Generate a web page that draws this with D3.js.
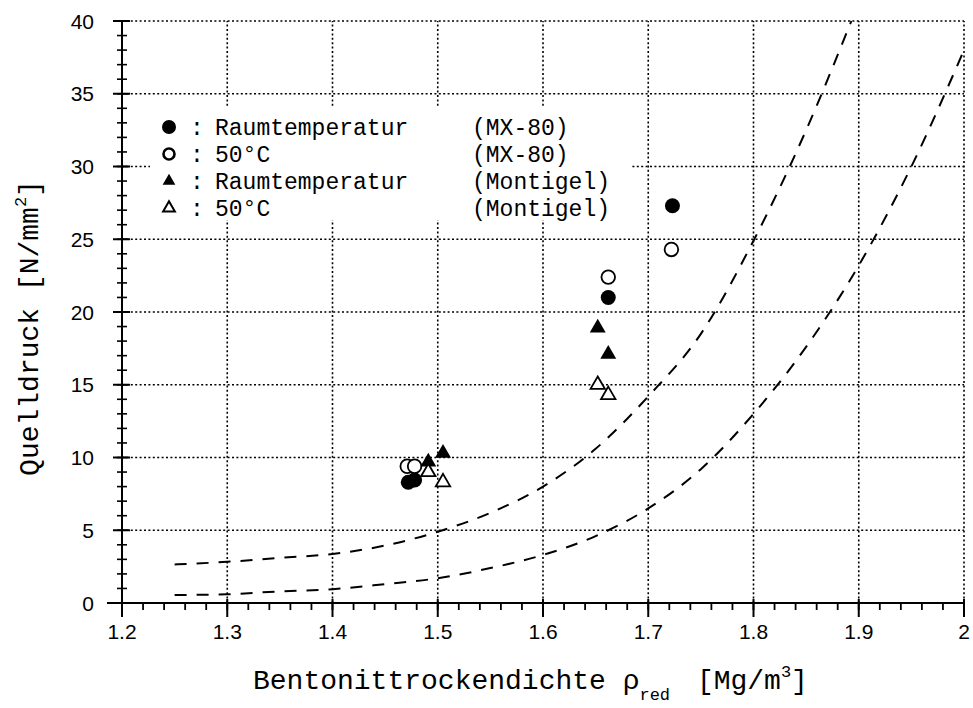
<!DOCTYPE html>
<html><head><meta charset="utf-8">
<script src="https://cdn.jsdelivr.net/npm/d3@7"></script>
<style>body{margin:0;background:#fff}</style>
</head><body><svg id="c" width="973" height="708"></svg>
<script>
// ---- data ----
const xTickValues = [1.2, 1.3, 1.4, 1.5, 1.6, 1.7, 1.8, 1.9, 2.0];
const xTickLabels = ["1.2", "1.3", "1.4", "1.5", "1.6", "1.7", "1.8", "1.9", "2"];
const yTickValues = [0, 5, 10, 15, 20, 25, 30, 35, 40];
const yTickLabels = ["0", "5", "10", "15", "20", "25", "30", "35", "40"];

const mx80RoomX = [1.472, 1.478, 1.662, 1.723];
const mx80RoomY = [8.3, 8.45, 21.0, 27.3];
const mx80HotX = [1.471, 1.478, 1.662, 1.722];
const mx80HotY = [9.4, 9.4, 22.4, 24.3];
const montRoomX = [1.491, 1.505, 1.652, 1.662];
const montRoomY = [9.7, 10.3, 18.9, 17.1];
const montHotX = [1.491, 1.505, 1.652, 1.662];
const montHotY = [9.0, 8.3, 15.0, 14.3];

const upperCurveX = [1.25, 1.3, 1.35, 1.4, 1.45, 1.5, 1.55, 1.6, 1.65, 1.7, 1.75, 1.8, 1.85, 1.893];
const upperCurveY = [2.65, 2.83, 3.1, 3.37, 3.95, 4.9, 6.2, 8.0, 10.6, 14.2, 18.5, 24.9, 32.5, 40];
const lowerCurveX = [1.25, 1.3, 1.35, 1.4, 1.45, 1.5, 1.55, 1.6, 1.65, 1.7, 1.75, 1.8, 1.85, 1.9, 1.95, 2.0];
const lowerCurveY = [0.55, 0.6, 0.8, 0.95, 1.3, 1.7, 2.4, 3.3, 4.6, 6.5, 9.2, 13.0, 17.6, 23.2, 30.0, 38.0];

const legendSymbols = ["filledCircle", "openCircle", "filledTriangle", "openTriangle"];
const legendLabels = ["Raumtemperatur", "50°C", "Raumtemperatur", "50°C"];
const legendMaterials = ["(MX-80)", "(MX-80)", "(Montigel)", "(Montigel)"];

// ---- drawing ----
const svg = d3.select("#c");
const x = d3.scaleLinear().domain([1.2, 2.0]).range([122, 964]);
const y = d3.scaleLinear().domain([0, 40]).range([603, 21]);
const mono = "'Liberation Mono', 'Courier New', monospace";
const sans = "'Liberation Sans', Arial, sans-serif";

// grid
const grid = svg.append("g").attr("stroke", "#000").attr("stroke-width", 1.6).attr("stroke-dasharray", "2,2.4");
grid.selectAll("line.v").data(xTickValues.slice(1)).join("line")
  .attr("x1", d => x(d)).attr("x2", d => x(d)).attr("y1", y(0)).attr("y2", y(40));
grid.selectAll("line.h").data(yTickValues.slice(1)).join("line")
  .attr("x1", x(1.2)).attr("x2", x(2.0)).attr("y1", d => y(d)).attr("y2", d => y(d));

// legend box
svg.append("rect").attr("x", 150).attr("y", 108).attr("width", 482).attr("height", 112).attr("fill", "#fff");
const lg = svg.append("g");
const rowY = i => 127 + i * 27;
const symGen = (type, size) => d3.symbol().type(type).size(size)();
legendSymbols.forEach((s, i) => {
  const g = lg.append("g").attr("transform", `translate(169,${rowY(i)})`);
  if (s === "filledCircle") g.append("circle").attr("r", 7).attr("fill", "#000");
  if (s === "openCircle") g.append("circle").attr("r", 5.5).attr("fill", "none").attr("stroke", "#000").attr("stroke-width", 2.6);
  if (s === "filledTriangle") g.append("path").attr("d", symGen(d3.symbolTriangle, 70)).attr("fill", "#000");
  if (s === "openTriangle") g.append("path").attr("d", symGen(d3.symbolTriangle, 60)).attr("fill", "none").attr("stroke", "#000").attr("stroke-width", 2);
  lg.append("text").attr("x", 197).attr("y", rowY(i)).attr("dy", "0.35em").attr("text-anchor", "middle")
    .attr("font-family", mono).attr("font-size", 23).text(":");
  lg.append("text").attr("x", 215).attr("y", rowY(i)).attr("dy", "0.35em")
    .attr("font-family", mono).attr("font-size", 23).text(legendLabels[i]);
  lg.append("text").attr("x", 472).attr("y", rowY(i)).attr("dy", "0.35em")
    .attr("font-family", mono).attr("font-size", 23).text(legendMaterials[i]);
});

// curves
const line = d3.line().x(d => x(d[0])).y(d => y(d[1])).curve(d3.curveMonotoneX);
[[upperCurveX, upperCurveY], [lowerCurveX, lowerCurveY]].forEach(([xs, ys]) => {
  svg.append("path").attr("d", line(xs.map((v, i) => [v, ys[i]])))
    .attr("fill", "none").attr("stroke", "#000").attr("stroke-width", 2).attr("stroke-dasharray", "12,10");
});

// points
const pts = svg.append("g");
const pairs = (xs, ys) => xs.map((v, i) => [v, ys[i]]);
pts.selectAll("c1").data(pairs(mx80RoomX, mx80RoomY)).join("circle")
  .attr("cx", d => x(d[0])).attr("cy", d => y(d[1])).attr("r", 7.5).attr("fill", "#000");
pts.selectAll("c2").data(pairs(mx80HotX, mx80HotY)).join("circle")
  .attr("cx", d => x(d[0])).attr("cy", d => y(d[1])).attr("r", 6.8).attr("fill", "#fff").attr("stroke", "#000").attr("stroke-width", 1.8);
pts.selectAll("t1").data(pairs(montRoomX, montRoomY)).join("path")
  .attr("transform", d => `translate(${x(d[0])},${y(d[1])})`).attr("d", symGen(d3.symbolTriangle, 110)).attr("fill", "#000");
pts.selectAll("t2").data(pairs(montHotX, montHotY)).join("path")
  .attr("transform", d => `translate(${x(d[0])},${y(d[1])})`).attr("d", symGen(d3.symbolTriangle, 90))
  .attr("fill", "#fff").attr("stroke", "#000").attr("stroke-width", 1.8);

// axes
const ax = svg.append("g").attr("stroke", "#000");
ax.append("line").attr("x1", 107).attr("x2", x(2.0)).attr("y1", y(0)).attr("y2", y(0)).attr("stroke-width", 2);
ax.append("line").attr("x1", x(1.2)).attr("x2", x(1.2)).attr("y1", y(40)).attr("y2", y(0)).attr("stroke-width", 2);
const xMinor = d3.range(0, 41).map(i => 1.2 + i * 0.02);
ax.selectAll("xm").data(xMinor).join("line")
  .attr("x1", d => x(d)).attr("x2", d => x(d)).attr("y1", y(0)).attr("y2", y(0) + 7).attr("stroke-width", 1.8);
ax.selectAll("xM").data(xTickValues).join("line")
  .attr("x1", d => x(d)).attr("x2", d => x(d)).attr("y1", y(0) - 4).attr("y2", y(0) + 14).attr("stroke-width", 2);
const yMinor = d3.range(0, 41);
ax.selectAll("ym").data(yMinor).join("line")
  .attr("x1", x(1.2) - 5).attr("x2", x(1.2) + 5).attr("y1", d => y(d)).attr("y2", d => y(d)).attr("stroke-width", 1.6);
ax.selectAll("yM").data(yTickValues).join("line")
  .attr("x1", x(1.2) - 9).attr("x2", x(1.2) + 8).attr("y1", d => y(d)).attr("y2", d => y(d)).attr("stroke-width", 2);

// tick labels
svg.selectAll("text.xl").data(xTickValues).join("text")
  .attr("x", d => x(d)).attr("y", 639).attr("text-anchor", "middle")
  .attr("font-family", sans).attr("font-size", 21).text((d, i) => xTickLabels[i]);
svg.selectAll("text.yl").data(yTickValues).join("text")
  .attr("x", 94).attr("y", d => y(d)).attr("dy", "0.36em").attr("text-anchor", "end")
  .attr("font-family", sans).attr("font-size", 21).text((d, i) => yTickLabels[i]);

// axis titles
const xt = svg.append("text").attr("x", 253).attr("y", 689).attr("font-family", mono).attr("font-size", 28);
xt.append("tspan").text("Bentonittrockendichte ρ");
xt.append("tspan").attr("dy", 11).attr("font-size", 17).text("red");
xt.append("tspan").attr("dy", -11).attr("dx", 10).text(" [Mg/m");
xt.append("tspan").attr("dy", -12).attr("font-size", 17).text("3");
xt.append("tspan").attr("dy", 12).text("]");

const yt = svg.append("text").attr("transform", "translate(38,328) rotate(-90)")
  .attr("text-anchor", "middle").attr("font-family", mono).attr("font-size", 28);
yt.append("tspan").text("Quelldruck [N/mm");
yt.append("tspan").attr("dy", -12).attr("font-size", 17).text("2");
yt.append("tspan").attr("dy", 12).text("]");
</script></body></html>
